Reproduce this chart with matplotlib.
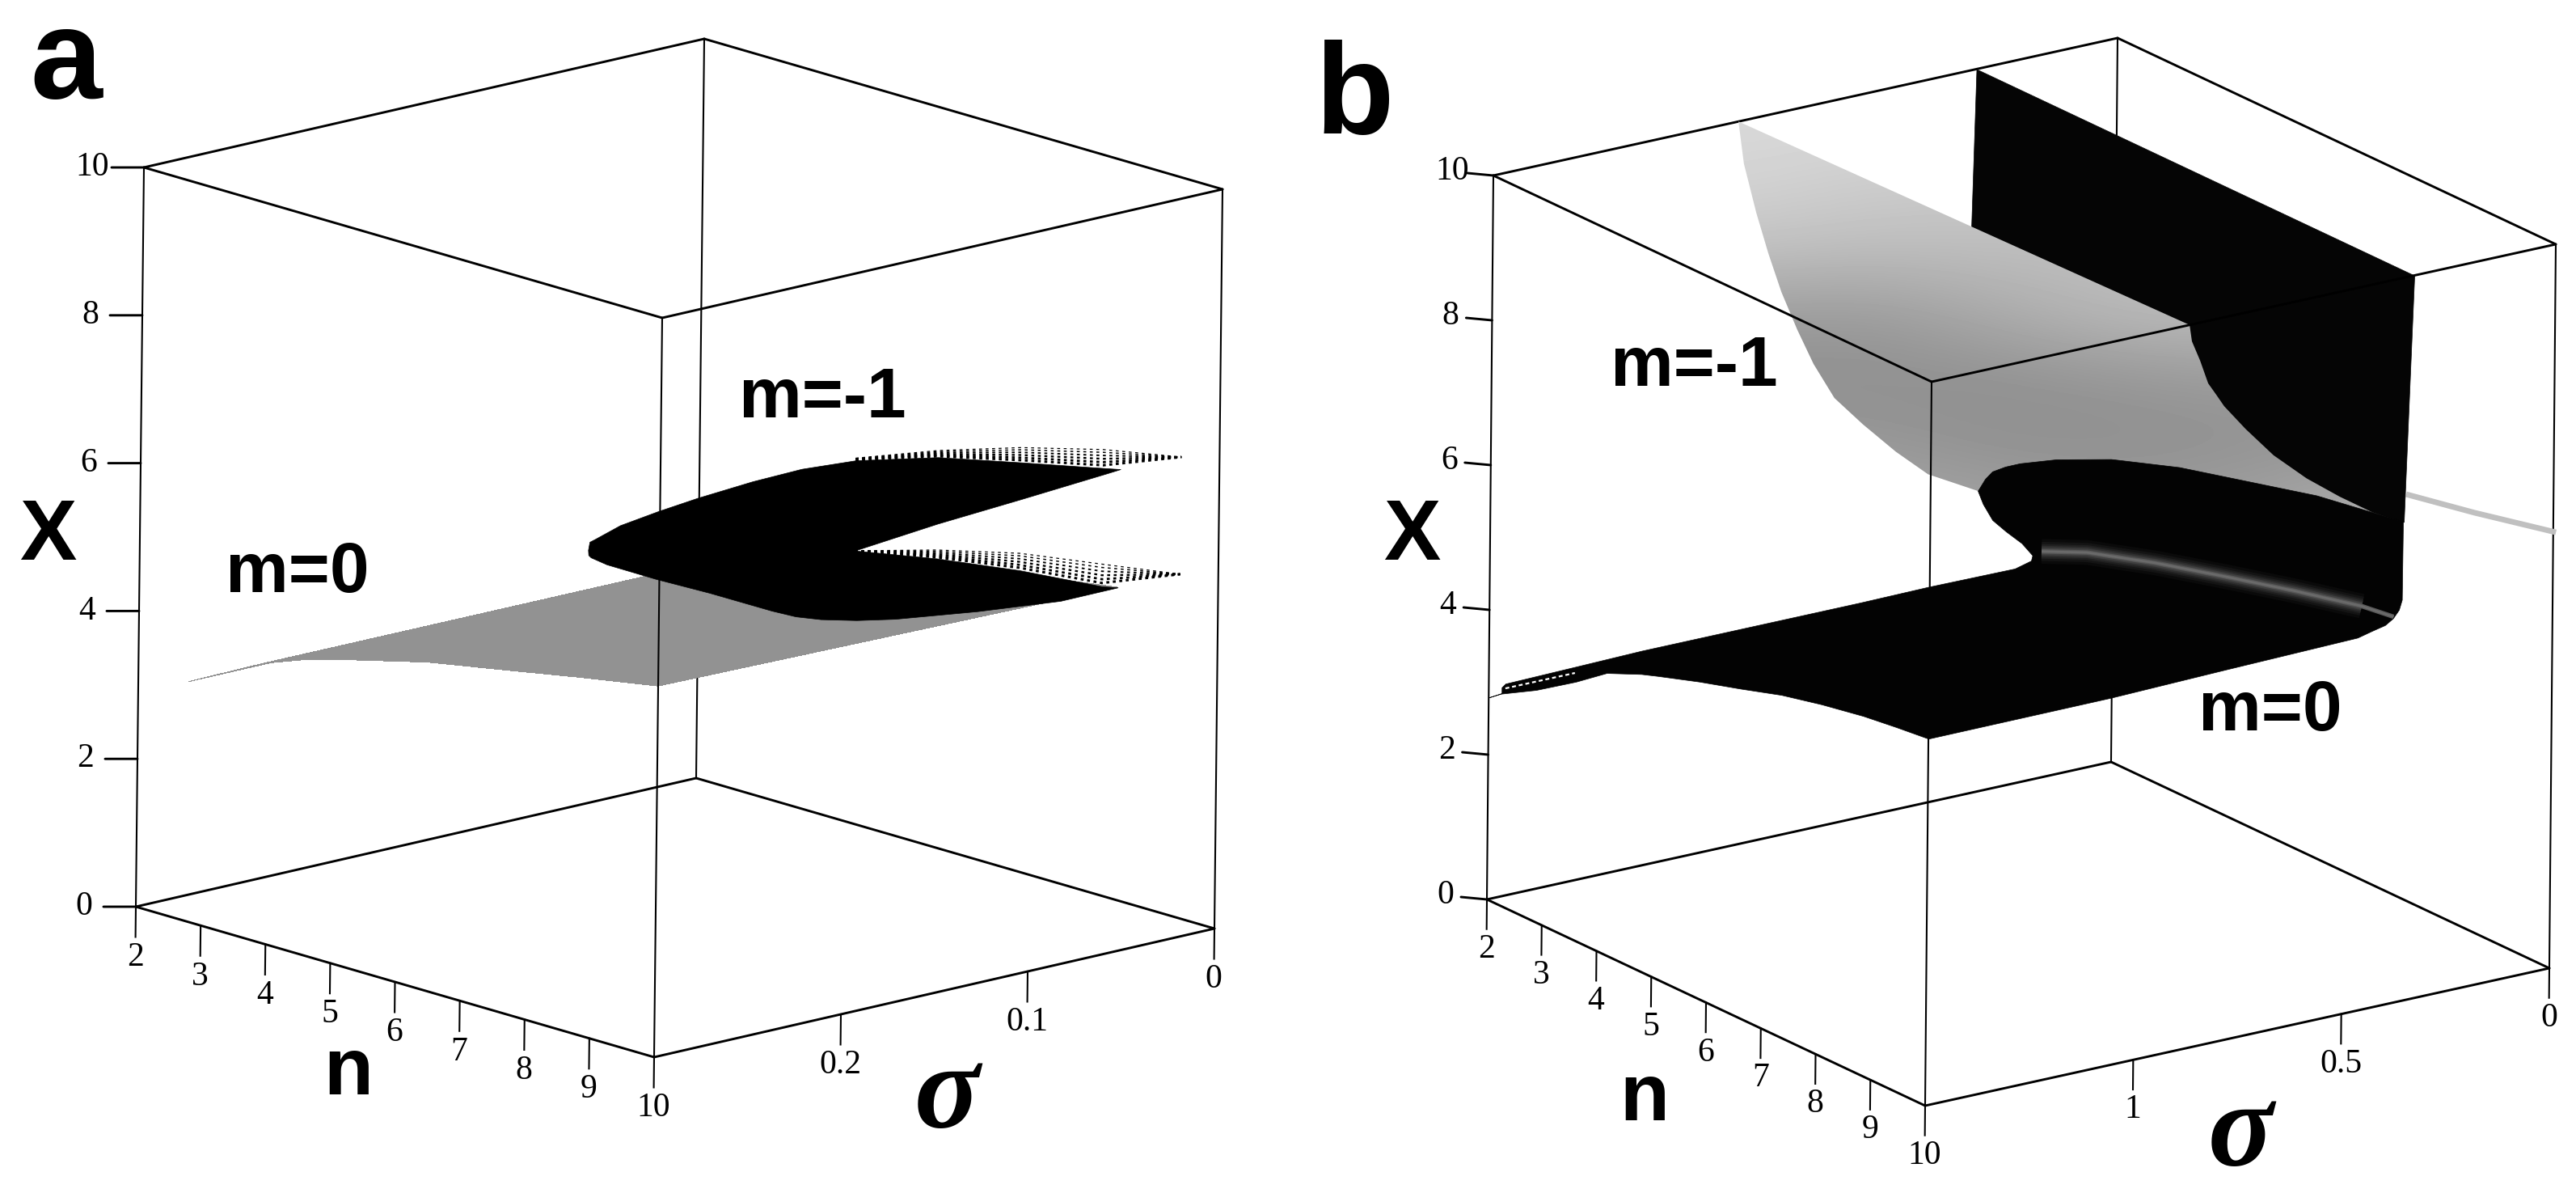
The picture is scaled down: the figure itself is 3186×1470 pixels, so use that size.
import numpy as np
import matplotlib
matplotlib.use("Agg")
import matplotlib.pyplot as plt
from matplotlib.patches import Polygon
from mpl_toolkits.mplot3d import proj3d
from mpl_toolkits.mplot3d.art3d import Poly3DCollection

# tick values
n_ticks = [2, 3, 4, 5, 6, 7, 8, 9, 10]
x_ticks = [0, 2, 4, 6, 8, 10]
sigma_ticks_a = [0, 0.1, 0.2]
sigma_labels_a = ["0", "0.1", "0.2"]
sigma_ticks_b = [0, 0.5, 1]
sigma_labels_b = ["0", "0.5", "1"]

# panel a, m=0 sheet (two sigma rows over n)
a_m0_n = [2.77, 3.92, 4.55, 5.31, 6.45, 7.72, 8.73, 10]
a_m0_sigma = [0.3, 0.054]
a_m0_x = [[3.24, 3.78, 3.99, 4.18, 4.44, 4.65, 4.82, 5.02],
          [3.24, 3.77, 3.97, 4.15, 4.40, 4.60, 4.76, 4.93]]

# panel a, m=-1 fold, solid part outline
a_m1_n = [5.00, 5.01, 5.05, 5.23, 5.53, 5.82, 6.23, 6.61, 7.01, 7.63, 8.26, 8.88, 9.01,
          8.91, 8.26, 7.63, 7.01, 7.63, 8.26, 8.88,
          9.00, 8.57, 7.94, 7.32, 7.03, 6.76, 6.57, 6.39, 5.92, 5.51, 5.14, 5.02, 5.00]
a_m1_sigma = [0.164, 0.1636, 0.162, 0.155, 0.145, 0.134, 0.119, 0.106, 0.091, 0.0685, 0.046, 0.0234, 0.0186,
              0.0223, 0.046, 0.0685, 0.091, 0.0685, 0.046, 0.0234,
              0.019, 0.0347, 0.0572, 0.0798, 0.0904, 0.1001, 0.107, 0.1136, 0.1306, 0.1453, 0.1588, 0.1632, 0.1638]
a_m1_x = [4.80, 4.91, 4.95, 5.14, 5.35, 5.54, 5.78, 5.97, 6.10, 6.17, 6.13, 6.08, 6.07,
          6.01, 5.63, 5.27, 4.88, 4.80, 4.67, 4.48,
          4.47, 4.27, 4.10, 3.97, 3.94, 3.94, 3.97, 4.04, 4.26, 4.43, 4.61, 4.70, 4.73]

# panel a, speckled rims of the two wings
a_rim_n = [7.01, 7.63, 8.26, 8.88, 9.47]
a_rim_sigma = [0.091, 0.0685, 0.046, 0.0234, 0.002]
a_rim_up_inner = [6.10, 6.17, 6.13, 6.08, 6.255]
a_rim_up_outer = [6.13, 6.26, 6.33, 6.33, 6.255]
a_rim_low_inner = [4.877, 4.80, 4.67, 4.48, 4.67]
a_rim_low_outer = [4.877, 4.915, 4.90, 4.78, 4.67]

# panel b, m=-1 sheet: edges at n=2 and n=10
b_m1_sigma_n2 = [0.911, 0.897, 0.866, 0.836, 0.804, 0.765, 0.725, 0.674, 0.605, 0.525, 0.447, 0.327]
b_m1_x_n2 = [10, 9.40, 8.68, 8.08, 7.51, 6.94, 6.415, 5.88, 5.43, 4.95, 4.54, 4.158]
b_m1_sigma_n10 = [0.88, 0.874, 0.854, 0.834, 0.814, 0.795, 0.743, 0.675, 0.595, 0.515, 0.436, 0.366]
b_m1_x_n10 = [10, 9.766, 9.476, 9.135, 8.95, 8.77, 8.39, 7.94, 7.52, 7.166, 6.85, 6.63]
# grey level over the sheet, as seen on the page
b_m1_shade = [[0.85, 0.85, 0.84, 0.82, 0.80, 0.80],
              [0.83, 0.80, 0.79, 0.78, 0.77, 0.76],
              [0.76, 0.74, 0.74, 0.74, 0.74, 0.72],
              [0.62, 0.60, 0.66, 0.72, 0.74, 0.72],
              [0.56, 0.56, 0.56, 0.58, 0.60, 0.60],
              [0.60, 0.60, 0.57, 0.56, 0.57, 0.58],
              [0.66, 0.66, 0.64, 0.62, 0.62, 0.68]]

# panel b, black wall
b_wall_n = [2, 10, 10, 2]
b_wall_sigma = [0.339, 0.34, 0.36, 0.36]
b_wall_x = [10, 10, 6.62, 5.0]

# panel b, thin streak at sigma=0
b_streak_n = [7.37, 8.56, 10]
b_streak_sigma = [0, 0, 0]
b_streak_x = [5.6, 5.78, 6.03]

# panel b, m=0 outline
b_m0_n = [2.0, 2.22, 2.86, 3.58, 4.14, 4.77, 5.07, 5.82, 6.57, 7.32, 8.05, 8.81, 9.41, 10,
          10, 10, 10, 10, 10, 10, 10, 10, 10,
          8.41, 7.16, 5.91, 4.67, 3.67, 3.01, 2.745, 2.51, 2.38, 2.25,
          2, 2, 2, 2, 2, 2, 2, 2, 2, 2, 2, 2, 2, 2]
b_m0_sigma = [1.5, 1.5, 1.5, 1.5, 1.5, 1.5, 1.5, 1.5, 1.5, 1.5, 1.5, 1.5, 1.5, 1.5,
              1.061, 0.7875, 0.469, 0.434, 0.403, 0.384, 0.370, 0.363, 0.362,
              0.36, 0.36, 0.36, 0.36, 0.36, 0.36, 0.36, 0.36, 0.36, 0.36,
              0.314, 0.291, 0.258, 0.220, 0.194, 0.197, 0.236, 0.444, 0.609, 1.133, 1.291, 1.46, 1.469, 1.469]
b_m0_x = [2.79, 2.92, 3.20, 3.57, 3.89, 4.10, 4.18, 4.37, 4.54, 4.72, 4.85, 4.96, 5.02, 5.07,
          5.08, 5.12, 5.16, 5.21, 5.25, 5.32, 5.42, 5.55, 6.63,
          6.42, 6.17, 5.92, 5.59, 5.23, 4.94, 4.80, 4.65, 4.50, 4.29,
          3.96, 3.71, 3.51, 3.30, 3.10, 3.03, 2.97, 2.98, 2.97, 2.97, 2.95, 2.93, 2.89, 2.81]

# panel b, pale ridge on m=0
b_ridge_n = [3.42, 4.25, 5.5, 6.75, 8.0, 9.25, 9.83]
b_ridge_sigma = [0.36, 0.36, 0.36, 0.36, 0.36, 0.36, 0.36]
b_ridge_x = [3.87, 4.15, 4.45, 4.71, 4.96, 5.19, 5.25]

# panel b, white dashes in the m=0 tip
b_dash_n = [2, 2]
b_dash_sigma = [1.46, 1.293]
b_dash_x = [2.865, 2.866]

W, H = 3186, 1470
S = W / 2
SERIF = "Liberation Serif"


def make_axes(x_off, origin, v_n, v_s, v_x, smax):
    # square 3d axes, the projection is fixed from where the box corners sit
    ax = fig.add_axes([x_off / W, (H - S) / 2 / H, S / W, S / H],
                      projection="3d", proj_type="ortho", computed_zorder=False)
    ax.set_axis_off()
    ax.patch.set_visible(False)
    ax.set_xlim(2, 10)
    ax.set_ylim(0, smax)
    ax.set_zlim(0, 10)
    ax.viewLim.intervalx = (0, S)
    ax.viewLim.intervaly = (H / 2 + S / 2, H / 2 - S / 2)
    row_u = [v_n[0] / 8, -v_s[0] / smax, v_x[0] / 10]
    row_v = [v_n[1] / 8, -v_s[1] / smax, v_x[1] / 10]
    u0 = origin[0] - x_off - 2 * row_u[0] + v_s[0]
    v0 = origin[1] - 2 * row_v[0] + v_s[1]
    depth = np.cross(row_u, row_v)
    M = np.array([row_u + [u0], row_v + [v0], list(depth) + [0], [0, 0, 0, 1]])
    ax.get_proj = lambda: M
    return ax


def tick_text(ax, n, s, z, label):
    u, v, _ = proj3d.proj_transform(n, s, z, ax.get_proj())
    ax.annotate(label, (u, v), ha="center", va="center", family=SERIF, fontsize=30, zorder=7)


def draw_box(ax, smax, dn, ds):
    edge = dict(color="black", lw=2.1, solid_capstyle="round")
    thin = dict(color="black", lw=1.5)
    for z in [0, 10]:
        ax.plot([2, 2], [smax, 0], [z, z], zorder=1, **edge)
        ax.plot([2, 10], [0, 0], [z, z], zorder=1, **edge)
        ax.plot([2, 10], [smax, smax], [z, z], zorder=5, **edge)
        ax.plot([10, 10], [smax, 0], [z, z], zorder=5, **edge)
    ax.plot([2, 2], [0, 0], [0, 10], zorder=1, **thin)
    ax.plot([10, 10], [0, 0], [0, 10], zorder=1, **thin)
    ax.plot([2, 2], [smax, smax], [0, 10], zorder=5, **thin)
    ax.plot([10, 10], [smax, smax], [0, 10], zorder=5, **thin)
    for t in x_ticks:
        ax.plot([2, 2 + dn], [smax, smax + ds], [t, t], zorder=5, **edge)
        tick_text(ax, 2 + 1.6 * dn, smax + 1.6 * ds, t, str(t))
    for t in n_ticks:
        ax.plot([t, t], [smax, smax], [0, -0.41], zorder=5, **thin)
        tick_text(ax, t, smax, -0.69, str(t))


def draw_sigma_ticks(ax, ticks, labels):
    for t, lab in zip(ticks, labels):
        ax.plot([10, 10], [t, t], [0, -0.41], color="black", lw=1.5, zorder=5)
        tick_text(ax, 10, t, -0.69, lab)


def fill3d(ax, xs, ys, zs, color, zorder):
    poly = Poly3DCollection([list(zip(xs, ys, zs))], facecolor=color, edgecolor=color,
                            linewidths=0.5, zorder=zorder)
    ax.add_collection3d(poly)


def speckle(ax, inner, outer):
    # rows of dots between the solid edge and the outer rim
    inner = np.array(inner)
    outer = np.array(outer)
    for f, lw in zip([0.15, 0.32, 0.5, 0.68, 0.85, 1.0], [2.2, 2.0, 1.7, 1.4, 1.1, 0.9]):
        ax.plot(a_rim_n, a_rim_sigma, inner + f * (outer - inner), color="black", lw=lw,
                linestyle=(0, (2.6 / lw, 3.2 / lw)), dash_capstyle="butt", zorder=6)


def put_text(px, py, s, size, family="Liberation Sans", style="normal"):
    fig.text(px / W, 1 - py / H, s, fontsize=size, family=family, weight="bold",
             style=style, ha="center", va="baseline")


fig = plt.figure(figsize=(W / 100, H / 100), dpi=100, facecolor="white")

# panel a
ax_a = make_axes(0, (168, 1121), (641, 186), (693, -159), (10, -914), 0.3)
draw_box(ax_a, 0.3, -0.22, 0.0097)
draw_sigma_ticks(ax_a, sigma_ticks_a, sigma_labels_a)
N, Sg = np.meshgrid(a_m0_n, a_m0_sigma)
ax_a.plot_surface(N, Sg, np.array(a_m0_x), color="#929292", shade=False, rstride=1, cstride=1,
                  linewidth=0, antialiased=False, zorder=3)
fill3d(ax_a, a_m1_n, a_m1_sigma, a_m1_x, "black", 6)
speckle(ax_a, a_rim_up_inner, a_rim_up_outer)
speckle(ax_a, a_rim_low_inner, a_rim_low_outer)

# panel b
ax_b = make_axes(1593, (1839, 1112), (542, 255), (772, -170), (8, -895), 1.5)
draw_box(ax_b, 1.5, -0.215, 0.034)
draw_sigma_ticks(ax_b, sigma_ticks_b, sigma_labels_b)
ax_b.plot(b_streak_n, b_streak_sigma, b_streak_x, color="#c0c0c0", lw=5, zorder=2)
fill3d(ax_b, b_wall_n, b_wall_sigma, b_wall_x, "#050505", 3)

# smooth shading of the m=-1 sheet, cut to the sheet outline
edge_n = [2] * len(b_m1_x_n2) + [10] * len(b_m1_x_n10)
edge_s = b_m1_sigma_n2 + b_m1_sigma_n10[::-1]
edge_x = b_m1_x_n2 + b_m1_x_n10[::-1]
pu, pv, _ = proj3d.proj_transform(np.array(edge_n), np.array(edge_s), np.array(edge_x), ax_b.get_proj())
im = ax_b.imshow(b_m1_shade, cmap="gray", vmin=0, vmax=1, aspect="auto", interpolation="bicubic",
                 extent=(482, 1382, 670, 110), zorder=4)
im.set_clip_path(Polygon(np.column_stack([pu, pv]), closed=True, transform=ax_b.transData))

fill3d(ax_b, b_m0_n, b_m0_sigma, b_m0_x, "#030303", 6)
ridge_layers = [(22, "#0a0a0a"), (17, "#141414"), (13, "#202020"), (10, "#2e2e2e"),
                (7, "#404040"), (4, "#585858"), (2, "#6a6a6a")]
for lw, col in ridge_layers:
    stop = 7 if lw < 6 else 6
    ax_b.plot(b_ridge_n[:stop], b_ridge_sigma[:stop], b_ridge_x[:stop], color=col, lw=lw,
              solid_capstyle="butt", zorder=6.5)
ax_b.plot(b_dash_n, b_dash_sigma, b_dash_x, color="white", lw=1.6, linestyle=(0, (2.2, 1.6)), zorder=7)

# labels
put_text(82, 121, "a", 115)
put_text(1675, 164, "b", 115)
put_text(59, 692, "X", 76)
put_text(1746, 692, "X", 76)
put_text(368, 732, "m=0", 63)
put_text(1017, 516, "m=-1", 63)
put_text(2095, 477, "m=-1", 63)
put_text(2808, 903, "m=0", 63)
put_text(431, 1353, "n", 72)
put_text(2034, 1385, "n", 72)
put_text(1171, 1394, "σ", 108, SERIF, "italic")
put_text(2771, 1441, "σ", 108, SERIF, "italic")

fig.savefig("out.png", dpi=100)
